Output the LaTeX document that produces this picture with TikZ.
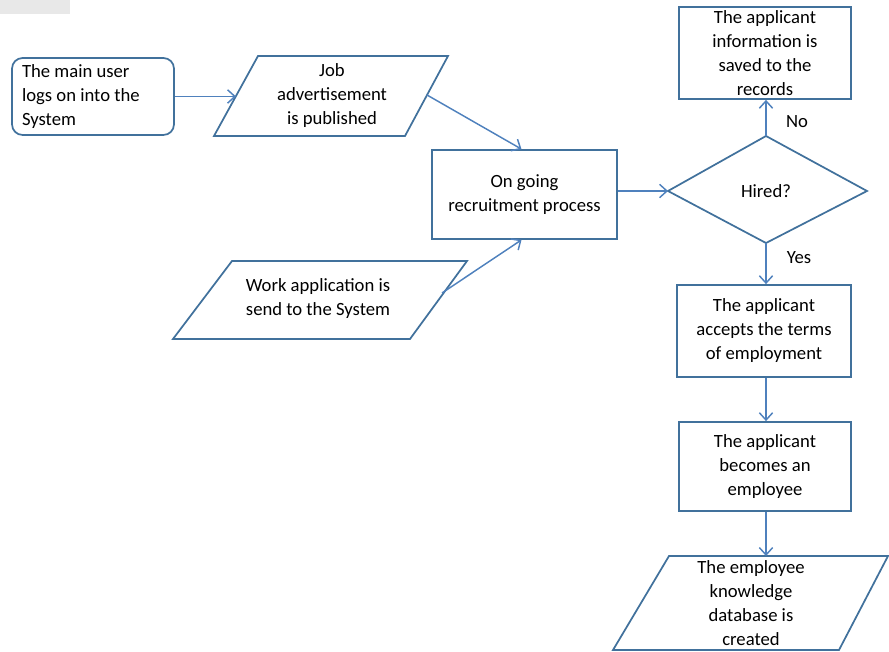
\documentclass[tikz,border=0pt]{standalone}
\usepackage{fontspec}
\setmainfont{Carlito}
\usetikzlibrary{arrows.meta}
\definecolor{boxc}{RGB}{65,113,156}
\definecolor{arrc}{RGB}{79,129,189}
\definecolor{grayc}{RGB}{232,232,232}
\begin{document}
\begin{tikzpicture}[x=0.75pt,y=-0.75pt,
  shapebox/.style={draw=boxc,line width=1.3pt},
  rectbox/.style={shapebox,rectangle,inner sep=0pt,font=\fontsize{14}{18}\selectfont,align=center},
  txt/.style={font=\fontsize{14}{18}\selectfont,align=center,inner sep=0pt},
  conn/.style={draw=arrc,line width=1.1pt,-{Straight Barb[length=5.5pt,width=10pt]}}]
\useasboundingbox (0,0) rectangle (889,652);
\fill[grayc] (0,0) rectangle (70,14);

% rounded start box
\node[rectbox,rounded corners=8pt,minimum width=121.5pt,minimum height=57.75pt,
      text width=106.5pt,align=flush left] (login) at (93,96.5)
  {The main user\\logs on into the\\System};

% job advertisement parallelogram
\coordinate (ja1) at (258,56); \coordinate (ja2) at (448,56);
\coordinate (ja3) at (405,136); \coordinate (ja4) at (214,136);
\draw[shapebox] (ja1) -- (ja2) -- (ja3) -- (ja4) -- cycle;
\node[txt] (jobad) at (332,96) {Job\\advertisement\\is published};
\coordinate (jaL) at (236,96.5);
\coordinate (jaR) at (427,95);

% ongoing process
\node[rectbox,minimum width=138.75pt,minimum height=66.75pt] (proc) at (524.5,194.5)
  {On going\\recruitment process};

% work application parallelogram
\coordinate (wa1) at (232,261); \coordinate (wa2) at (467,261);
\coordinate (wa3) at (410,339); \coordinate (wa4) at (173,339);
\draw[shapebox] (wa1) -- (wa2) -- (wa3) -- (wa4) -- cycle;
\node[txt] (work) at (318,299) {Work application is\\send to the System};
\coordinate (waR) at (442,293);

% decision diamond
\coordinate (dl) at (668,191); \coordinate (dt) at (766,136);
\coordinate (dr) at (867,191); \coordinate (db) at (766,243);
\draw[shapebox] (dl) -- (dt) -- (dr) -- (db) -- cycle;
\node[txt] (hired) at (766,191) {Hired?};

% records
\node[rectbox,minimum width=129pt,minimum height=69pt] (info) at (765,53)
  {The applicant\\information is\\saved to the\\records};

% accepts
\node[rectbox,minimum width=130.5pt,minimum height=69pt] (accept) at (764,331)
  {The applicant\\accepts the terms\\of employment};

% becomes
\node[rectbox,minimum width=129pt,minimum height=66.75pt] (become) at (765,466.5)
  {The applicant\\becomes an\\employee};

% database parallelogram
\coordinate (db1) at (669,556); \coordinate (db2) at (888,556);
\coordinate (db3) at (839,650); \coordinate (db4) at (613,650);
\draw[shapebox] (db1) -- (db2) -- (db3) -- (db4) -- cycle;
\node[txt] (dbase) at (751,603) {The employee\\knowledge\\database is\\created};
\coordinate (dbT) at (766,556);

% connectors
\draw[conn] (login.east) -- (jaL);
\draw[conn] (jaR) -- ([xshift=-2.25pt]proc.north);
\draw[conn] (waR) -- ([xshift=-2.25pt]proc.south);
\draw[conn] (proc.east |- dl) -- (dl);
\draw[conn] (dt) -- (dt |- info.south);
\draw[conn] (db) -- (db |- accept.north);
\draw[conn] (db |- accept.south) -- (db |- become.north);
\draw[conn] (db |- become.south) -- (dbT);

\node[txt] (no) at (797,122) {No};
\node[txt] (yes) at (799,258) {Yes};
\end{tikzpicture}
\end{document}
